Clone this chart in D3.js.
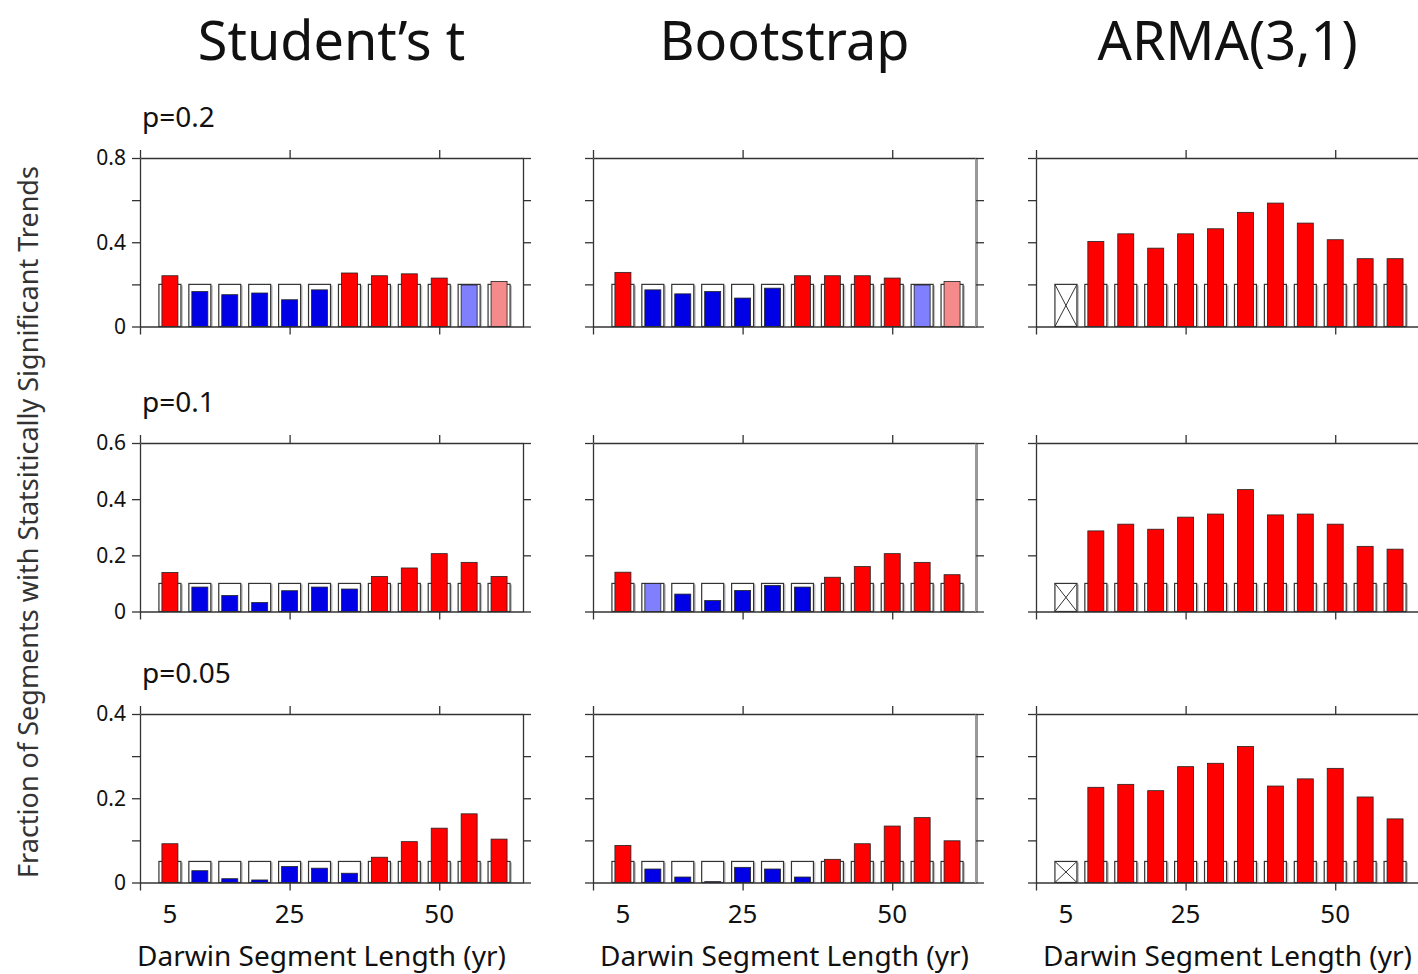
<!DOCTYPE html>
<html>
<head>
<meta charset="utf-8">
<script src="https://cdn.jsdelivr.net/npm/d3@7"></script>
<style>
  body { margin: 0; background: #fff; }
  text { font-family: "Noto Sans", "Open Sans", sans-serif; fill: #111; }
</style>
</head>
<body>
<div id="chart"></div>
<script>
// segment lengths (yr) and significance levels
var segLengths = [5, 10, 15, 20, 25, 30, 35, 40, 45, 50, 55, 60];
var pLevels = [0.2, 0.1, 0.05];
var methods = ["Student’s t", "Bootstrap", "ARMA(3,1)"];
var pLabels = ["p=0.2", "p=0.1", "p=0.05"];
var xTickLabels = [5, 25, 50];

// fraction of segments with significant trends
var studentP20 = [0.241, 0.166, 0.151, 0.159, 0.127, 0.174, 0.254, 0.241, 0.250, 0.230, 0.197, 0.214];
var bootP20    = [0.257, 0.174, 0.155, 0.166, 0.135, 0.182, 0.241, 0.241, 0.241, 0.230, 0.197, 0.214];
var armaP20    = [null, 0.404, 0.440, 0.372, 0.440, 0.464, 0.542, 0.586, 0.491, 0.412, 0.322, 0.322];
var studentP10 = [0.139, 0.087, 0.057, 0.032, 0.074, 0.087, 0.080, 0.125, 0.155, 0.206, 0.175, 0.125];
var bootP10    = [0.140, 0.100, 0.062, 0.039, 0.075, 0.093, 0.087, 0.122, 0.160, 0.206, 0.175, 0.131];
var armaP10    = [null, 0.287, 0.311, 0.293, 0.336, 0.347, 0.434, 0.344, 0.347, 0.311, 0.232, 0.222];
var studentP05 = [0.092, 0.028, 0.009, 0.006, 0.038, 0.034, 0.022, 0.060, 0.097, 0.129, 0.163, 0.103];
var bootP05    = [0.088, 0.032, 0.013, 0.002, 0.036, 0.032, 0.013, 0.055, 0.092, 0.134, 0.154, 0.099];
var armaP05    = [null, 0.226, 0.233, 0.218, 0.275, 0.283, 0.323, 0.229, 0.246, 0.271, 0.203, 0.151];

// R = significantly more, B = significantly fewer, r/b = not significant, X = no result
var studentC20 = ["R","B","B","B","B","B","R","R","R","R","b","r"];
var bootC20    = ["R","B","B","B","B","B","R","R","R","R","b","r"];
var armaC      = ["X","R","R","R","R","R","R","R","R","R","R","R"];
var studentC10 = ["R","B","B","B","B","B","B","R","R","R","R","R"];
var bootC10    = ["R","b","B","B","B","B","B","R","R","R","R","R"];
var studentC05 = ["R","B","B","B","B","B","B","R","R","R","R","R"];
var bootC05    = ["R","B","B","B","B","B","B","R","R","R","R","R"];

var yMaxes = [0.8, 0.6, 0.4];
var yTicks = [[0, 0.2, 0.4, 0.6, 0.8], [0, 0.2, 0.4, 0.6], [0, 0.1, 0.2, 0.3, 0.4]];
var yTickLabels = [[0, 0.4, 0.8], [0, 0.2, 0.4, 0.6], [0, 0.2, 0.4]];

var panels = [
    [{v: studentP20, c: studentC20}, {v: bootP20, c: bootC20}, {v: armaP20, c: armaC}],
    [{v: studentP10, c: studentC10}, {v: bootP10, c: bootC10}, {v: armaP10, c: armaC}],
    [{v: studentP05, c: studentC05}, {v: bootP05, c: bootC05}, {v: armaP05, c: armaC}]
];

var colors = {R: "#ff0000", B: "#0000e6", r: "#f58a8a", b: "#8080ff"};

var svgWidth = 1418;
var svgHeight = 974;
var colX = [140, 593, 1036];
var rowY = [158, 443, 714];
var panelW = 383;
var panelH = 168.5;
var boxW = 22;
var barW = 16;

var svg = d3.select("#chart")
    .append("svg")
    .attr("width", svgWidth)
    .attr("height", svgHeight);

var x = d3.scaleLinear().domain([0, 64]).range([0, panelW]);

var fmt = function (d) { return d === 0 ? "0" : d3.format(".1f")(d); };

// column titles
methods.forEach(function (m, j) {
    svg.append("text")
        .attr("x", colX[j] + panelW / 2)
        .attr("y", 60)
        .attr("text-anchor", "middle")
        .style("font-size", "54px")
        .text(m);
});

// y axis title
svg.append("text")
    .attr("transform", "translate(38, 522) rotate(-90)")
    .attr("text-anchor", "middle")
    .style("font-size", "27px")
    .style("fill", "#333")
    .text("Fraction of Segments with Statsitically Significant Trends");

panels.forEach(function (row, i) {
    var p = pLevels[i];
    var y = d3.scaleLinear().domain([0, yMaxes[i]]).range([panelH, 0]);

    svg.append("text")
        .attr("x", colX[0] + 2)
        .attr("y", rowY[i] - 31)
        .style("font-size", "28px")
        .text(pLabels[i]);

    row.forEach(function (panel, j) {
        var g = svg.append("g")
            .attr("transform", `translate(${colX[j]},${rowY[i]})`);

        var data = segLengths.map(function (s, k) {
            return {len: s, val: panel.v[k], cls: panel.c[k]};
        });

        // expected-fraction boxes (shadow + outline)
        g.selectAll(".shadow").data(data).enter()
            .append("rect")
            .attr("x", d => x(d.len) - boxW / 2 + 2)
            .attr("y", y(p) + 1)
            .attr("width", boxW)
            .attr("height", panelH - y(p) - 1)
            .attr("fill", "#c4c4c4");

        g.selectAll(".box").data(data).enter()
            .append("rect")
            .attr("x", d => x(d.len) - boxW / 2)
            .attr("y", y(p))
            .attr("width", boxW)
            .attr("height", panelH - y(p))
            .attr("fill", "#fff")
            .attr("stroke", "#333")
            .attr("stroke-width", 1.2);

        // crossed box where there is no result
        var cross = data.filter(d => d.cls === "X");
        cross.forEach(function (d) {
            var x0 = x(d.len) - boxW / 2, x1 = x(d.len) + boxW / 2;
            g.append("line").attr("x1", x0).attr("y1", y(p)).attr("x2", x1).attr("y2", panelH)
                .attr("stroke", "#333").attr("stroke-width", 1);
            g.append("line").attr("x1", x1).attr("y1", y(p)).attr("x2", x0).attr("y2", panelH)
                .attr("stroke", "#333").attr("stroke-width", 1);
        });

        // observed fractions
        g.selectAll(".bar").data(data.filter(d => d.val !== null)).enter()
            .append("rect")
            .attr("x", d => x(d.len) - barW / 2)
            .attr("y", d => y(d.val))
            .attr("width", barW)
            .attr("height", d => panelH - y(d.val))
            .attr("fill", d => colors[d.cls])
            .attr("stroke", "#222")
            .attr("stroke-width", 0.8);

        // axes
        var bottomAxis = d3.axisBottom(x).tickValues([0, 25, 50]).tickFormat("").tickSize(8).tickSizeOuter(0);
        var topAxis = d3.axisTop(x).tickValues([0, 25, 50]).tickFormat("").tickSize(8).tickSizeOuter(0);
        var leftAxis = d3.axisLeft(y).tickValues(yTicks[i]).tickFormat("").tickSize(8).tickSizeOuter(0);
        var rightAxis = d3.axisRight(y).tickValues(yTicks[i]).tickFormat("").tickSize(8).tickSizeOuter(0);

        var axColor = "#333";
        g.append("g").attr("transform", `translate(0,${panelH})`).call(bottomAxis);
        g.append("g").call(topAxis);
        g.append("g").call(leftAxis);
        var ra = g.append("g").attr("transform", `translate(${panelW},0)`).call(rightAxis);
        if (j === 1) {
            ra.select(".domain").attr("stroke", "#999").attr("stroke-width", 3);
        }
        g.selectAll(".domain, .tick line").filter(function () {
            return !d3.select(this).attr("stroke-width");
        }).attr("stroke", axColor).attr("stroke-width", 1.3);

        // y tick labels on first column
        if (j === 0) {
            g.selectAll(".ylab").data(yTickLabels[i]).enter()
                .append("text")
                .attr("x", -14)
                .attr("y", d => y(d))
                .attr("dy", "0.35em")
                .attr("text-anchor", "end")
                .style("font-size", "21px")
                .text(fmt);
        }

        // x tick labels and title on bottom row
        if (i === 2) {
            g.selectAll(".xlab").data(xTickLabels).enter()
                .append("text")
                .attr("x", d => x(d))
                .attr("y", panelH + 40)
                .attr("text-anchor", "middle")
                .style("font-size", "26px")
                .text(d => d);

            g.append("text")
                .attr("x", panelW / 2 - (j === 0 ? 10 : 0))
                .attr("y", panelH + 83)
                .attr("text-anchor", "middle")
                .style("font-size", "28px")
                .text("Darwin Segment Length (yr)");
        }
    });
});
</script>
</body>
</html>
